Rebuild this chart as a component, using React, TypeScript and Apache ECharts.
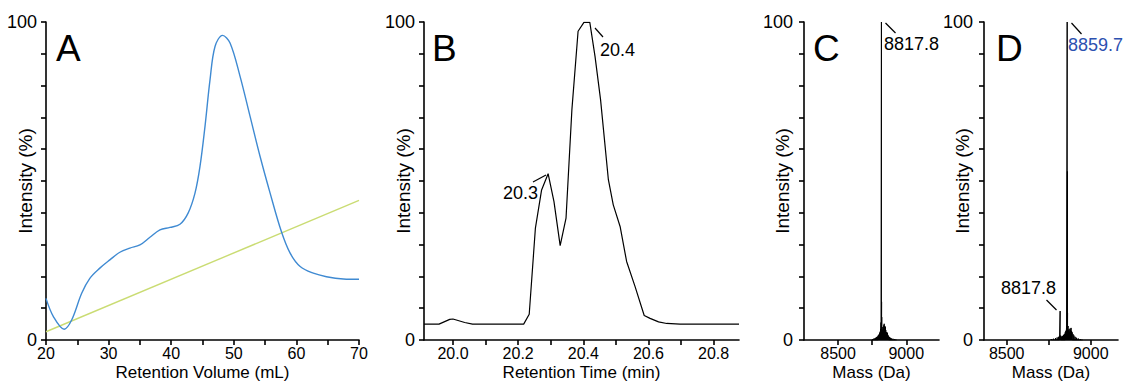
import React, { useEffect, useRef } from "react";
import * as echarts from "echarts";

// Panel A: size-exclusion chromatogram
const secVolume = [20, 21.2, 22.9, 24.1, 25.7, 27.0, 28.6, 30.2, 31.8, 33.4, 35.0, 36.6, 38.2, 39.8, 41.4, 42.7, 43.8, 44.6, 45.4, 46.2, 47.0, 48.2, 49.4, 51.0, 52.6, 54.2, 55.8, 57.6, 59.0, 60.6, 62.7, 64.8, 67.5, 70];
const secIntensity = [13.1, 7.3, 3.4, 6.3, 14.7, 19.4, 22.6, 25.2, 27.6, 28.9, 29.9, 32.3, 34.6, 35.4, 36.4, 39.9, 46.2, 54.6, 67.2, 81.8, 92.3, 95.8, 93.4, 82.9, 70.3, 57.7, 46.2, 34.1, 27.3, 23.1, 21.0, 19.9, 19.2, 19.1];
const gradientVolume = [20, 70];
const gradientLevel = [2.6, 43.9];
const secTicks = [20, 25, 30, 35, 40, 45, 50, 55, 60, 65, 70];
const secLabels = [20, 30, 40, 50, 60, 70];

// Panel B: LC trace
const lcTime = [19.911, 19.957, 19.99, 20.0, 20.036, 20.06, 20.217, 20.234, 20.253, 20.272, 20.292, 20.31, 20.329, 20.347, 20.365, 20.384, 20.402, 20.42, 20.436, 20.453, 20.477, 20.492, 20.513, 20.533, 20.559, 20.587, 20.605, 20.631, 20.656, 20.697, 20.878];
const lcIntensity = [5.0, 5.0, 6.5, 6.6, 5.5, 5.0, 5.0, 8.1, 35.2, 47.2, 52.3, 43.5, 29.7, 38.3, 72.4, 97.1, 99.9, 99.9, 89.2, 75.6, 50.4, 42.5, 35.7, 24.7, 16.8, 7.7, 6.8, 5.7, 5.2, 5.0, 5.0];
const lcTicks = [20.0, 20.1, 20.2, 20.3, 20.4, 20.5, 20.6, 20.7, 20.8];
const lcLabels = [20.0, 20.2, 20.4, 20.6, 20.8];

// Panel C: deconvoluted mass spectrum
const massC = [8752, 8760, 8768, 8775, 8782, 8788, 8794, 8799, 8804, 8808, 8812, 8815, 8817.8, 8819, 8820, 8823, 8826, 8829, 8832, 8835, 8838, 8841, 8844, 8847, 8850, 8854, 8858, 8862, 8866, 8871, 8877, 8884, 8892, 8902, 8915, 8930];
const intC = [0.3, 0.4, 0.5, 0.7, 0.9, 1.1, 1.4, 1.7, 2.1, 2.6, 3.4, 5.5, 100, 12, 7.2, 4.1, 2.9, 3.3, 4.0, 4.6, 5.1, 4.4, 3.6, 4.2, 3.1, 2.5, 2.0, 2.3, 1.6, 1.2, 0.9, 0.7, 0.5, 0.4, 0.3, 0.2];

// Panel D: deconvoluted mass spectrum
const massD = [8765, 8778, 8790, 8800, 8808, 8814, 8817.8, 8821, 8826, 8832, 8838, 8843, 8848, 8852, 8856, 8859.7, 8861, 8862, 8865, 8868, 8871, 8874, 8877, 8880, 8883, 8886, 8890, 8895, 8900, 8907, 8915, 8925, 8938, 8952];
const intD = [0.3, 0.4, 0.6, 0.8, 1.0, 1.3, 9.1, 1.4, 1.1, 1.3, 1.6, 1.9, 2.4, 2.9, 4.2, 100, 53, 8.5, 4.4, 3.0, 3.4, 2.6, 3.6, 3.1, 3.8, 2.8, 2.4, 1.8, 1.4, 1.0, 0.7, 0.5, 0.3, 0.2];

const massTicks = [8500, 8750, 9000];
const massLabels = [8500, 9000];
const intensityLabels = [0, 100];

const FONT = "'Liberation Sans', Arial, Helvetica, sans-serif";

function sticks(m: number[], h: number[]) {
  const out: number[][] = [];
  m.forEach((x, i) => {
    out.push([x, 0], [x, h[i]], [x, 0]);
  });
  return out;
}

function pairs(x: number[], y: number[]) {
  return x.map((v, i) => [v, y[i]]);
}

const axisLineStyle = { lineStyle: { color: "#000", width: 1.6 } };

function xAxis(gridIndex: number, min: number, max: number, ticks: number[], labels: number[], name: string, fmt?: (v: number) => string) {
  return {
    type: "value",
    gridIndex,
    min,
    max,
    name,
    nameLocation: "middle",
    nameGap: 24,
    nameMoveOverlap: false,
    nameTextStyle: { fontSize: 17, color: "#000", fontFamily: FONT, lineHeight: 16.4 },
    axisLine: { show: true, onZero: false, ...axisLineStyle },
    axisTick: { show: true, length: 5, inside: false, customValues: ticks, lineStyle: { color: "#000", width: 1.6 } },
    axisLabel: {
      show: true,
      customValues: labels,
      margin: 6.5,
      fontSize: 16,
      lineHeight: 14,
      color: "#000",
      fontFamily: FONT,
      formatter: fmt || ((v: number) => String(v)),
    },
    splitLine: { show: false },
  };
}

function yAxis(gridIndex: number, nameGap: number, labelMargin: number) {
  return {
    type: "value",
    gridIndex,
    min: 0,
    max: 100,
    interval: 10,
    name: "Intensity (%)",
    nameLocation: "middle",
    nameGap,
    nameMoveOverlap: false,
    nameTextStyle: { fontSize: 19, color: "#000", fontFamily: FONT },
    axisLine: { show: true, onZero: false, ...axisLineStyle },
    axisTick: { show: true, length: 5, inside: false, lineStyle: { color: "#000", width: 1.6 } },
    axisLabel: {
      show: true,
      customValues: intensityLabels,
      margin: labelMargin,
      fontSize: 18,
      color: "#000",
      fontFamily: FONT,
    },
    splitLine: { show: false },
  };
}

function letter(text: string, x: number) {
  return {
    type: "text",
    x,
    y: 48,
    style: { text, fontSize: 37, fontFamily: FONT, fill: "#000", textAlign: "left", textVerticalAlign: "middle" },
  };
}

function note(text: string, x: number, y: number, align: string, color = "#000") {
  return {
    type: "text",
    x,
    y,
    style: { text, fontSize: 18, fontFamily: FONT, fill: color, textAlign: align, textVerticalAlign: "middle" },
  };
}

function leader(x1: number, y1: number, x2: number, y2: number) {
  return {
    type: "line",
    shape: { x1, y1, x2, y2 },
    style: { stroke: "#000", lineWidth: 1.2 },
  };
}

export default function App() {
  const ref = useRef<HTMLDivElement>(null);
  useEffect(() => {
    if (!ref.current) return;
    const chart = echarts.init(ref.current, undefined, { renderer: "svg" });
    const option: any = {
      animation: false,
      backgroundColor: "#fff",
      textStyle: { fontFamily: FONT },
      grid: [
        { left: 46, top: 22, width: 313, height: 318, containLabel: false, outerBoundsMode: "none" },
        { left: 424, top: 22, width: 315, height: 318, containLabel: false, outerBoundsMode: "none" },
        { left: 804, top: 22, width: 135, height: 318, containLabel: false, outerBoundsMode: "none" },
        { left: 984, top: 22, width: 134, height: 318, containLabel: false, outerBoundsMode: "none" },
      ],
      xAxis: [
        xAxis(0, 20, 70, secTicks, secLabels, "Retention Volume (mL)"),
        xAxis(1, 19.911, 20.878, lcTicks, lcLabels, "Retention Time (min)", (v: number) => v.toFixed(1)),
        xAxis(2, 8250, 9240, massTicks, massLabels, "Mass (Da)"),
        xAxis(3, 8365, 9162, massTicks, massLabels, "Mass (Da)"),
      ],
      yAxis: [yAxis(0, 11, 9), yAxis(1, 11, 9), yAxis(2, 12, 11), yAxis(3, 12, 11)],
      series: [
        {
          type: "line",
          xAxisIndex: 0,
          yAxisIndex: 0,
          data: pairs(secVolume, secIntensity),
          smooth: 0.35,
          showSymbol: false,
          lineStyle: { color: "#3f8ad2", width: 1.4 },
          z: 3,
        },
        {
          type: "line",
          xAxisIndex: 0,
          yAxisIndex: 0,
          data: pairs(gradientVolume, gradientLevel),
          showSymbol: false,
          lineStyle: { color: "#cadc73", width: 1.4 },
          z: 2,
        },
        {
          type: "line",
          xAxisIndex: 1,
          yAxisIndex: 1,
          data: pairs(lcTime, lcIntensity),
          showSymbol: false,
          lineStyle: { color: "#000", width: 1.2 },
        },
        {
          type: "line",
          xAxisIndex: 2,
          yAxisIndex: 2,
          data: sticks(massC, intC),
          showSymbol: false,
          lineStyle: { color: "#000", width: 1 },
        },
        {
          type: "line",
          xAxisIndex: 3,
          yAxisIndex: 3,
          data: sticks(massD, intD),
          showSymbol: false,
          lineStyle: { color: "#000", width: 1 },
        },
      ],
      graphic: [
        letter("A", 56),
        letter("B", 432),
        letter("C", 813),
        letter("D", 996),
        note("20.3", 538, 193, "right"),
        leader(533, 182, 546, 175),
        note("20.4", 600, 50, "left"),
        leader(595, 28, 603, 37),
        note("8817.8", 884, 44, "left"),
        leader(885.5, 23, 895.5, 33),
        note("8859.7", 1068, 45, "left", "#2c50b0"),
        leader(1071.5, 23, 1081.5, 34),
        note("8817.8", 1001, 288, "left"),
        leader(1046.5, 300, 1056.5, 310),
      ],
    };
    chart.setOption(option);
    return () => chart.dispose();
  }, []);
  return <div ref={ref} style={{ position: "absolute", left: 0, top: 0, width: 1125, height: 382 }} />;
}
